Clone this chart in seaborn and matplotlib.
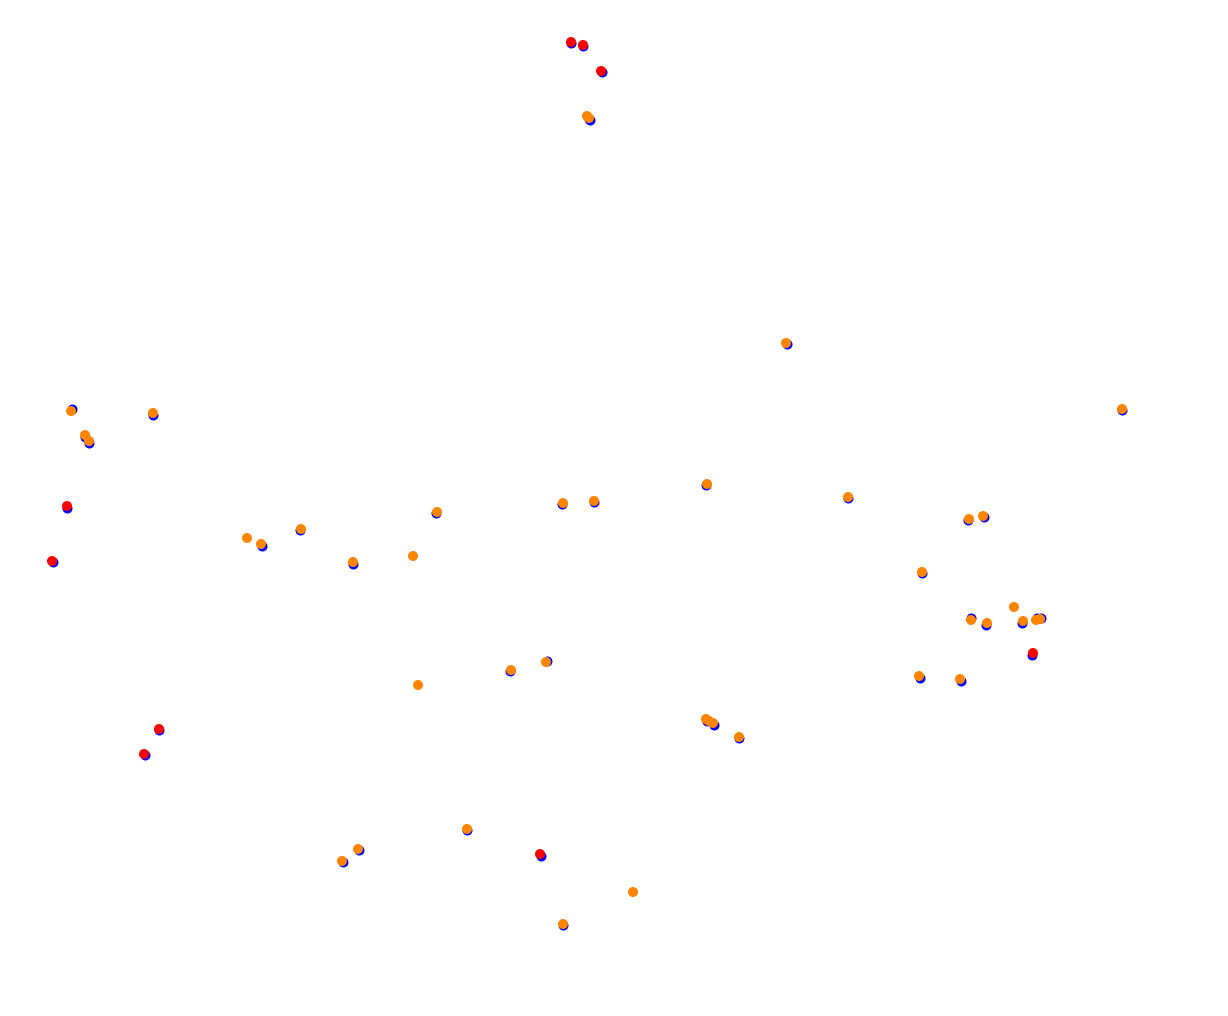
import pandas as pd
import matplotlib
matplotlib.use("Agg")
import matplotlib.pyplot as plt
import seaborn as sns

# positions (x to the right, y downwards)
red_x = [571, 583, 601, 67, 52, 159, 144, 540, 1033]
red_y = [42, 45, 71, 506, 561, 729, 754, 854, 653]

orange_x = [587, 589, 786, 1122, 71, 153, 85, 89, 707, 848, 563, 594, 437, 301,
            247, 261, 353, 413, 969, 983, 922, 1014, 971, 987, 1023, 1036, 1040,
            919, 960, 418, 511, 546, 706, 709, 713, 739, 467, 358, 342, 633, 563]
orange_y = [116, 118, 343, 409, 411, 413, 435, 441, 484, 497, 503, 501, 512, 529,
            538, 544, 562, 556, 519, 516, 572, 607, 620, 623, 621, 620, 619,
            676, 679, 685, 670, 662, 719, 721, 723, 737, 829, 849, 861, 892, 924]

blue_x = [571, 583, 602, 589, 590, 787, 1122, 72, 153, 85, 89, 67, 53, 706, 848,
          562, 594, 436, 300, 262, 353, 968, 984, 922, 971, 986, 1022, 1037, 1041,
          1032, 920, 961, 510, 547, 707, 714, 739, 159, 145, 467, 359, 343, 541, 563]
blue_y = [43, 46, 72, 119, 120, 344, 410, 409, 415, 437, 443, 508, 562, 485, 498,
          504, 502, 513, 530, 546, 564, 520, 517, 573, 618, 625, 623, 618, 618,
          655, 678, 681, 671, 661, 721, 725, 738, 730, 755, 830, 850, 862, 856, 925]

blue = pd.DataFrame({"x": blue_x, "y": blue_y})
top = pd.concat([
    pd.DataFrame({"x": red_x, "y": red_y, "kind": "red"}),
    pd.DataFrame({"x": orange_x, "y": orange_y, "kind": "orange"}),
])

fig = plt.figure(figsize=(12.28, 10.16), dpi=100)
ax = fig.add_axes([0, 0, 1, 1])

sns.scatterplot(data=blue, x="x", y="y", color="#0000ff", s=52, linewidth=0, ax=ax)
sns.scatterplot(data=top, x="x", y="y", hue="kind",
                palette={"red": "#ff0000", "orange": "#ff8400"},
                s=52, linewidth=0, legend=False, ax=ax)

ax.set_xlim(0, 1228)
ax.set_ylim(1016, 0)
ax.axis("off")

fig.savefig("out.png", dpi=100)
